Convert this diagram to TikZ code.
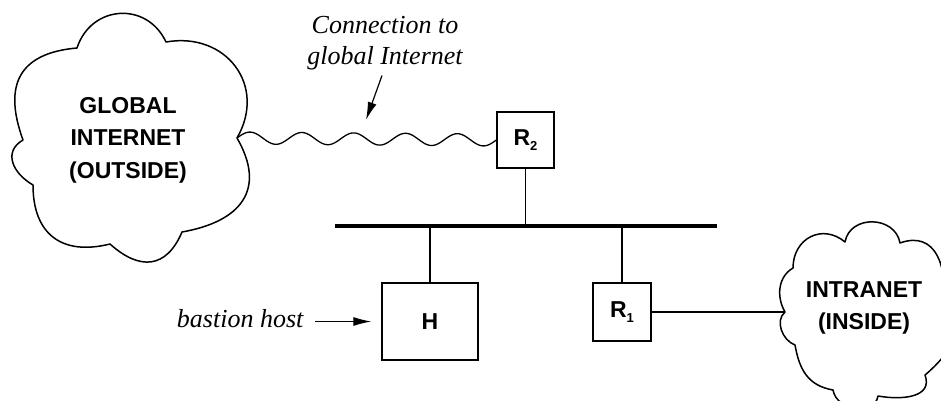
\documentclass[tikz,border=0pt]{standalone}
\usepackage{fontspec}
\setmainfont{Liberation Serif}
\setsansfont{Liberation Sans}
\usetikzlibrary{arrows.meta,calc}

\begin{document}
\begin{tikzpicture}[x=1pt,y=1pt,
  line width=1.3pt,
  cloudline/.style={line width=1.5pt, line join=round},
  cloudtext/.style={align=center, inner sep=0pt,
    font=\sffamily\bfseries\fontsize{23}{32.5}\selectfont},
  box/.style={draw, line width=1.3pt, inner sep=0pt,
    font=\sffamily\bfseries\fontsize{23}{23}\selectfont},
  note/.style={inner sep=0pt, align=center,
    font=\itshape\fontsize{26}{31}\selectfont},
  arr/.style={-{Latex[length=18pt,width=9pt]}, line width=1.2pt},
  bus/.style={line width=4pt}
]
\useasboundingbox (0,0) rectangle (941,400);

\newcommand{\sub}[1]{\raisebox{-5pt}{\fontsize{13}{13}\selectfont #1}}

% outer cloud
\coordinate (gC1) at (77,352);
\coordinate (gC2) at (166,358);
\coordinate (gC3) at (237,262);
\coordinate (gC4) at (182,168);
\coordinate (gC5) at (110,156);
\coordinate (gC7) at (33,215);
\coordinate (gC6) at (23,260);
\draw[cloudline] (gC1) to[out=72,in=115,looseness=1.3] (gC2)
  to[out=10,in=60,looseness=1.3] (gC3)
  to[out=-60,in=10,looseness=1.4] (gC4)
  to[out=-113,in=-42,looseness=1.4] (gC5)
  to[out=194,in=-90,looseness=1.3] (gC7)
  to[out=150,in=210,looseness=1.3] (gC6)
  to[out=110,in=185,looseness=1.4] (gC1) -- cycle;
\node[cloudtext] (gtext) at (128,260) {GLOBAL\\INTERNET\\(OUTSIDE)};

% inner cloud
\coordinate (iQ1) at (785,88);
\coordinate (iQ2) at (793,132);
\coordinate (iQ3) at (845,158);
\coordinate (iQ4) at (900,157);
\coordinate (iQ5) at (942,95);
\coordinate (iQ6) at (925,25);
\coordinate (iQ7) at (878,4);
\coordinate (iQ8) at (833,10);
\coordinate (iQ9) at (795,55);
\draw[cloudline] (iQ1) to[out=120,in=210] (iQ2)
  to[out=90,in=140,looseness=1.3] (iQ3)
  to[out=80,in=100,looseness=1.3] (iQ4)
  to[out=20,in=80,looseness=1.3] (iQ5)
  to[out=-30,in=40,looseness=1.2] (iQ6)
  to[out=-70,in=-10,looseness=1.2] (iQ7)
  to[out=-100,in=-80,looseness=1.2] (iQ8)
  to[out=170,in=-80,looseness=1.1] (iQ9)
  to[out=160,in=220] (iQ1) -- cycle;
\node[cloudtext] (itext) at (864,92) {INTRANET\\(INSIDE)};

% routers and host
\node[box, minimum width=57pt, minimum height=56pt] (R2) at (525.5,260) {R\sub{2}};
\node[box, minimum width=96pt, minimum height=77pt] (H) at (430,78.5) {H};
\node[box, minimum width=58pt, minimum height=58pt] (R1) at (622,88) {R\sub{1}};

% network segment
\coordinate (busL) at (335,174);
\coordinate (busR) at (717,174);
\draw[bus] (busL) -- (busR);
\draw (R2.south) -- (R2.south |- busL);
\draw (H.north |- busL) -- (H.north);
\draw (R1.north |- busL) -- (R1.north);
\draw (R1.east) -- (iQ1);

% link to the outside: five sine periods from the cloud to R2
\draw let \p1 = (gC3), \p2 = (R2.west) in
  plot[variable=\t, domain=0:1, samples=241, smooth]
  ({\x1+(\x2-\x1)*\t}, {\y1+(\y2-\y1)*\t+6pt*sin(1800*\t)});

% annotations
\node[note] (conn) at (385,357) {Connection to\\global Internet};
\coordinate (connTip) at (366,280);
\draw[arr] ([xshift=-3pt,yshift=-5pt]conn.south) -- (connTip);

\node[note, anchor=base east] (bast) at (304,73) {bastion host};
\draw[arr, shorten >=10pt] ([xshift=11pt]bast.east |- H.west) -- (H.west);
\end{tikzpicture}
\end{document}
